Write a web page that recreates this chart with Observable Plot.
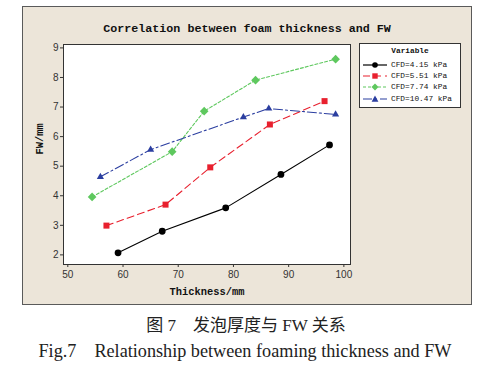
<!DOCTYPE html>
<html><head><meta charset="utf-8">
<script src="https://cdn.jsdelivr.net/npm/d3@7"></script>
<script src="https://cdn.jsdelivr.net/npm/@observablehq/plot@0.6"></script>
<style>
body{margin:0;width:492px;height:371px;background:#fff;position:relative;overflow:hidden}
#panel{position:absolute;left:22px;top:6px;width:448px;height:297px;background:#ece5d9;border:1.5px solid #5a5a5a;box-sizing:content-box}
#panel svg{display:block}
#title{position:absolute;left:22px;top:22px;width:450px;text-align:center;font:bold 11.7px "Liberation Mono",monospace;color:#111;white-space:pre}
#legend{position:absolute;left:359px;top:43px;width:100px;height:63px;background:#fff;border:1px solid #333;font:7.8px "Liberation Mono",monospace;color:#111;white-space:nowrap}
#legend .hd{text-align:center;margin-top:3px;font-weight:bold;height:12px}
#legend .row{display:flex;align-items:center;height:11.3px}
#legend svg{margin-left:3px;margin-right:4px;flex:none}
.cap1{position:absolute;left:0;width:492px;top:311px;text-align:center;font:17px "Liberation Serif","Noto Sans CJK SC",serif;color:#222;white-space:pre}
.cap2{position:absolute;left:0;width:490px;top:338px;text-align:center;font:18.2px "Liberation Serif",serif;color:#222;white-space:pre}
</style></head>
<body>
<div id="panel"></div>
<div id="title">Correlation between foam thickness and FW</div>
<div id="legend"></div>
<div class="cap1">图 7　发泡厚度与 FW 关系</div>
<div class="cap2">Fig.7　Relationship between foaming thickness and FW</div>
<script>
const seriesNames = ["CFD=4.15 kPa","CFD=5.51 kPa","CFD=7.74 kPa","CFD=10.47 kPa"];
const thick415 = [59.1, 67.1, 78.6, 88.6, 97.4];
const fw415    = [2.07, 2.80, 3.59, 4.72, 5.72];
const thick551 = [57.0, 67.7, 75.8, 86.6, 96.5];
const fw551    = [2.99, 3.70, 4.96, 6.41, 7.20];
const thick774 = [54.4, 68.9, 74.7, 84.0, 98.5];
const fw774    = [3.96, 5.49, 6.86, 7.91, 8.62];
const thick1047 = [55.9, 65.0, 81.8, 86.4, 98.5];
const fw1047    = [4.64, 5.56, 6.66, 6.95, 6.75];
const xTicks = [50, 60, 70, 80, 90, 100];
const yTicks = [2, 3, 4, 5, 6, 7, 8, 9];

const colors = ["#000000", "#e8202e", "#5ec85e", "#2b3ea0"];
const symbols = ["circle", "square", "diamond2", "triangle2"];
const dashes = ["none", "7,4", "3,2", "9,3,2,3"];
const xs = [thick415, thick551, thick774, thick1047];
const ys = [fw415, fw551, fw774, fw1047];

const data = [];
seriesNames.forEach((s, i) => xs[i].forEach((x, j) => data.push({series: s, idx: i, x, y: ys[i][j]})));

const marks = [
  Plot.frame({fill: "#fff", stroke: "#333", strokeWidth: 1}),
  Plot.axisX({ticks: xTicks, tickSize: 3, tickPadding: 3, label: null, fontSize: 10, color: "#333"}),
  Plot.axisY({ticks: yTicks, tickSize: 3, tickPadding: 2, label: null, fontSize: 10, color: "#333"}),
  Plot.text(["Thickness/mm"], {frameAnchor: "bottom", dy: 30, fontFamily: "Liberation Mono, monospace", fontWeight: "bold", fontSize: 10.4, fill: "#111"}),
  Plot.text(["FW/mm"], {frameAnchor: "left", dx: -24, rotate: -90, fontFamily: "Liberation Mono, monospace", fontWeight: "bold", fontSize: 10.4, fill: "#111"})
];
seriesNames.forEach((s, i) => {
  const d = data.filter(r => r.idx === i);
  marks.push(Plot.line(d, {x: "x", y: "y", stroke: colors[i], strokeWidth: 1.1, strokeDasharray: dashes[i]}));
  marks.push(Plot.dot(d, {x: "x", y: "y", fill: colors[i], stroke: "none", symbol: () => symbols[i], r: i === 2 ? 3.9 : 3.4}));
});

const chart = Plot.plot({
  width: 448, height: 297,
  marginLeft: 40, marginRight: 121, marginTop: 37, marginBottom: 40,
  x: {domain: [49.22, 101.2]},
  y: {domain: [1.675, 9.115]},
  style: {background: "transparent", fontFamily: "Liberation Sans, Arial, sans-serif", fontSize: "10px"},
  marks
});
document.getElementById("panel").appendChild(chart);

const leg = document.getElementById("legend");
const hd = document.createElement("div"); hd.className = "hd"; hd.textContent = "Variable"; leg.appendChild(hd);
const sym = {
  circle: '<circle cx="12" cy="5" r="2.8"/>',
  square: '<rect x="9.3" y="2.3" width="5.4" height="5.4"/>',
  diamond2: '<path d="M12 1.5L15.5 5L12 8.5L8.5 5Z"/>',
  triangle2: '<path d="M12 1.5L15.4 7.8H8.6Z"/>'
};
seriesNames.forEach((s, i) => {
  const row = document.createElement("div"); row.className = "row";
  row.innerHTML = `<svg width="24" height="10"><line x1="0" x2="24" y1="5" y2="5" stroke="${colors[i]}" stroke-width="1.2" stroke-dasharray="${dashes[i] === 'none' ? '' : dashes[i]}"/><g fill="${colors[i]}">${sym[symbols[i]]}</g></svg><span>${s}</span>`;
  leg.appendChild(row);
});
</script>
</body></html>
